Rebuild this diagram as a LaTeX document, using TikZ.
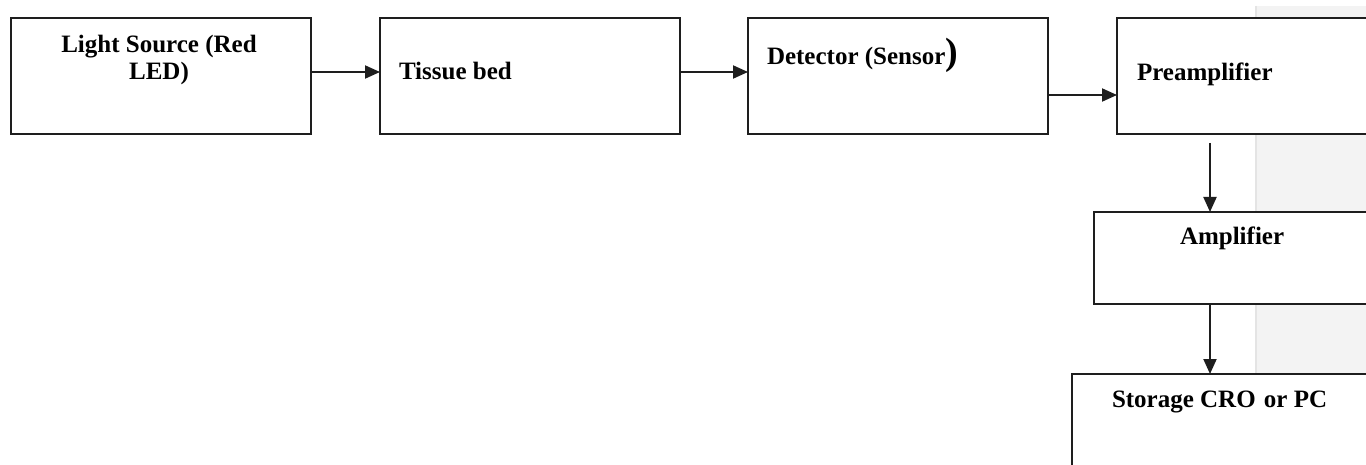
\documentclass[tikz,border=0pt]{standalone}
\usepackage{fontspec}
\setmainfont{Liberation Serif}
\usetikzlibrary{arrows.meta}
\definecolor{bgray}{HTML}{F3F3F3}
\definecolor{bedge}{HTML}{E4E4E4}
\definecolor{lineclr}{HTML}{1E1E1E}
\begin{document}
\begin{tikzpicture}[x=1pt,y=-1pt,
  blk/.style={draw=lineclr,line width=2pt,fill=white,inner sep=0pt,outer sep=0pt},
  lbl/.style={font=\bfseries\fontsize{25}{27}\selectfont,inner sep=0pt,outer sep=0pt,text=black},
  arr/.style={draw=lineclr,line width=2pt,-{Triangle[length=15pt,width=13pt]}}]
\useasboundingbox (0,0) rectangle (1366,465);
\clip (0,0) rectangle (1366,465);
\fill[white] (0,0) rectangle (1366,465);
% grey side panel
\fill[bgray] (1256,6) rectangle (1366,465);
\draw[bedge,line width=2pt] (1256,6) -- (1256,465);
% boxes
\node[blk,minimum width=300pt,minimum height=116pt] (b1) at (161,76) {};
\node[blk,minimum width=300pt,minimum height=116pt] (b2) at (530,76) {};
\node[blk,minimum width=300pt,minimum height=116pt] (b3) at (898,76) {};
\node[blk,minimum width=300pt,minimum height=116pt] (b4) at (1267,76) {};
\node[blk,minimum width=300pt,minimum height=92pt] (b5) at (1244,258) {};
\node[blk,minimum width=340pt,minimum height=140pt] (b6) at (1242,444) {};
% labels
\node[lbl,align=center,anchor=base] (t1) at (159,80) {Light Source (Red\\LED)};
\node[lbl,anchor=base west] (t2) at (399,80) {Tissue bed};
\node[lbl,anchor=base west] (t3) at (767,65) {Detector (Sensor{\fontsize{38}{38}\selectfont)}};
\node[lbl,anchor=base west] (t4) at (1137,81) {Preamplifier};
\node[lbl,anchor=base west] (t5) at (1180,245) {Amplifier};
\node[lbl,anchor=base west] (t6) at (1112,407) {Storage CRO\kern2pt{} or PC};
% connectors
\draw[arr] ([yshift=4pt]b1.east) -- ([yshift=4pt]b2.west);
\draw[arr] ([yshift=4pt]b2.east) -- ([yshift=4pt]b3.west);
\draw[arr] ([yshift=-19pt]b3.east) -- ([yshift=-19pt]b4.west);
\coordinate (a4) at (1210,143);
\draw[arr] (a4) -- (a4 |- b5.north);
\draw[arr] (b5.south -| a4) -- (b6.north -| a4);
\end{tikzpicture}
\end{document}
